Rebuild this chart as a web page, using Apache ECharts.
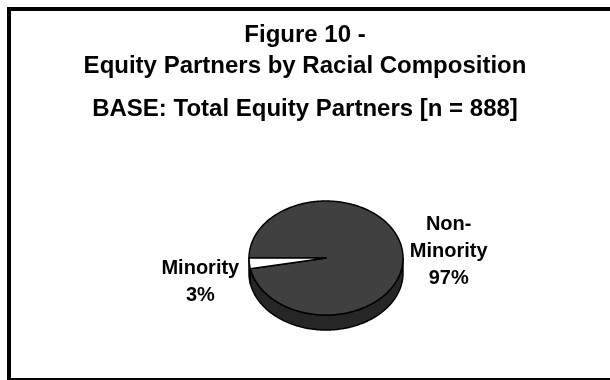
<!DOCTYPE html>
<html>
<head>
<meta charset="utf-8">
<script src="https://cdn.jsdelivr.net/npm/echarts@6/dist/echarts.min.js"></script>
<style>
  html, body { margin: 0; padding: 0; background: #fff; }
  #chart { width: 610px; height: 380px; }
</style>
</head>
<body>
<div id="chart"></div>
<script>
// Slice data: share of equity partners (percent)
const sliceNames = ['Non-Minority', 'Minority'];
const sliceValues = [97, 3];

// Styling for each slice (top face / outer wall)
const topColors = ['#404040', '#ffffff'];
const sideColors = ['#262626', '#d9d9d9'];

// Tilted pie geometry
const CX = 326, CY = 258, RX = 77, RY = 57, DEPTH = 15;
const START_DEG = 180;             // first slice begins at 9 o'clock, runs clockwise
const LABEL_OFFSET = [46, -49];    // horizontal shift of each label from its slice rim

const total = sliceValues.reduce((a, b) => a + b, 0);
let running = 0;
const seriesData = sliceValues.map((v, i) => {
  const item = { name: sliceNames[i], value: [running, v, i] };
  running += v;
  return item;
});

function rim(deg, dy) {
  const r = deg * Math.PI / 180;
  return [CX + RX * Math.cos(r), CY + RY * Math.sin(r) + (dy || 0)];
}

function arcPoints(a0, a1, dy) {
  const pts = [];
  const n = Math.max(2, Math.ceil(Math.abs(a1 - a0)));
  for (let k = 0; k <= n; k++) pts.push(rim(a0 + (a1 - a0) * k / n, dy));
  return pts;
}

function renderItem(params, api) {
  const startVal = api.value(0), val = api.value(1), idx = api.value(2);
  const a0 = START_DEG + startVal / total * 360;
  const a1 = a0 + val / total * 360;
  const children = [];

  // outer wall: only the part of the rim that faces the viewer (lower half)
  for (let k = -1; k <= 2; k++) {
    const s = Math.max(a0, 360 * k), e = Math.min(a1, 360 * k + 180);
    if (e > s) {
      const pts = arcPoints(s, e, 0).concat(arcPoints(e, s, DEPTH));
      children.push({
        type: 'polygon', z2: 1,
        shape: { points: pts },
        style: { fill: sideColors[idx], stroke: '#000', lineWidth: 1.5, lineJoin: 'round' }
      });
    }
  }

  // top face wedge
  children.push({
    type: 'polygon', z2: 10,
    shape: { points: [[CX, CY]].concat(arcPoints(a0, a1, 0)) },
    style: { fill: topColors[idx], stroke: '#000', lineWidth: 1.5, lineJoin: 'round' }
  });

  // category label with percentage, outside the rim at the slice's middle angle
  const mid = rim((a0 + a1) / 2, 0);
  const pct = Math.round(val / total * 100) + '%';
  const name = sliceNames[idx].replace('-', '-\n');
  children.push({
    type: 'text', z2: 20,
    x: mid[0] + LABEL_OFFSET[idx],
    y: mid[1] + (idx === 1 ? 19 : -1),
    style: {
      text: name + '\n' + pct,
      fill: '#000',
      font: 'bold 20px "Liberation Sans", Arial, sans-serif',
      lineHeight: 27,
      align: 'center',
      verticalAlign: 'middle'
    }
  });

  return { type: 'group', children: children };
}

const chart = echarts.init(document.getElementById('chart'), null, { renderer: 'canvas' });
chart.setOption({
  backgroundColor: '#ffffff',
  animation: false,
  title: [
    {
      text: 'Figure 10 -\nEquity Partners by Racial Composition',
      left: 'center', top: 15,
      textStyle: { fontFamily: '"Liberation Sans", Arial, sans-serif', fontWeight: 'bold', fontSize: 24, lineHeight: 31, color: '#000' }
    },
    {
      text: 'BASE: Total Equity Partners [n = 888]',
      left: 'center', top: 89,
      textStyle: { fontFamily: '"Liberation Sans", Arial, sans-serif', fontWeight: 'bold', fontSize: 24, lineHeight: 31, color: '#000' }
    }
  ],
  graphic: [
    {
      type: 'rect', silent: true, z: -1,
      shape: { x: 9, y: 9, width: 700, height: 371 },
      style: { fill: null, stroke: '#000', lineWidth: 4 }
    }
  ],
  series: [
    {
      type: 'custom',
      coordinateSystem: 'none',
      renderItem: renderItem,
      data: seriesData
    }
  ]
});
</script>
</body>
</html>
